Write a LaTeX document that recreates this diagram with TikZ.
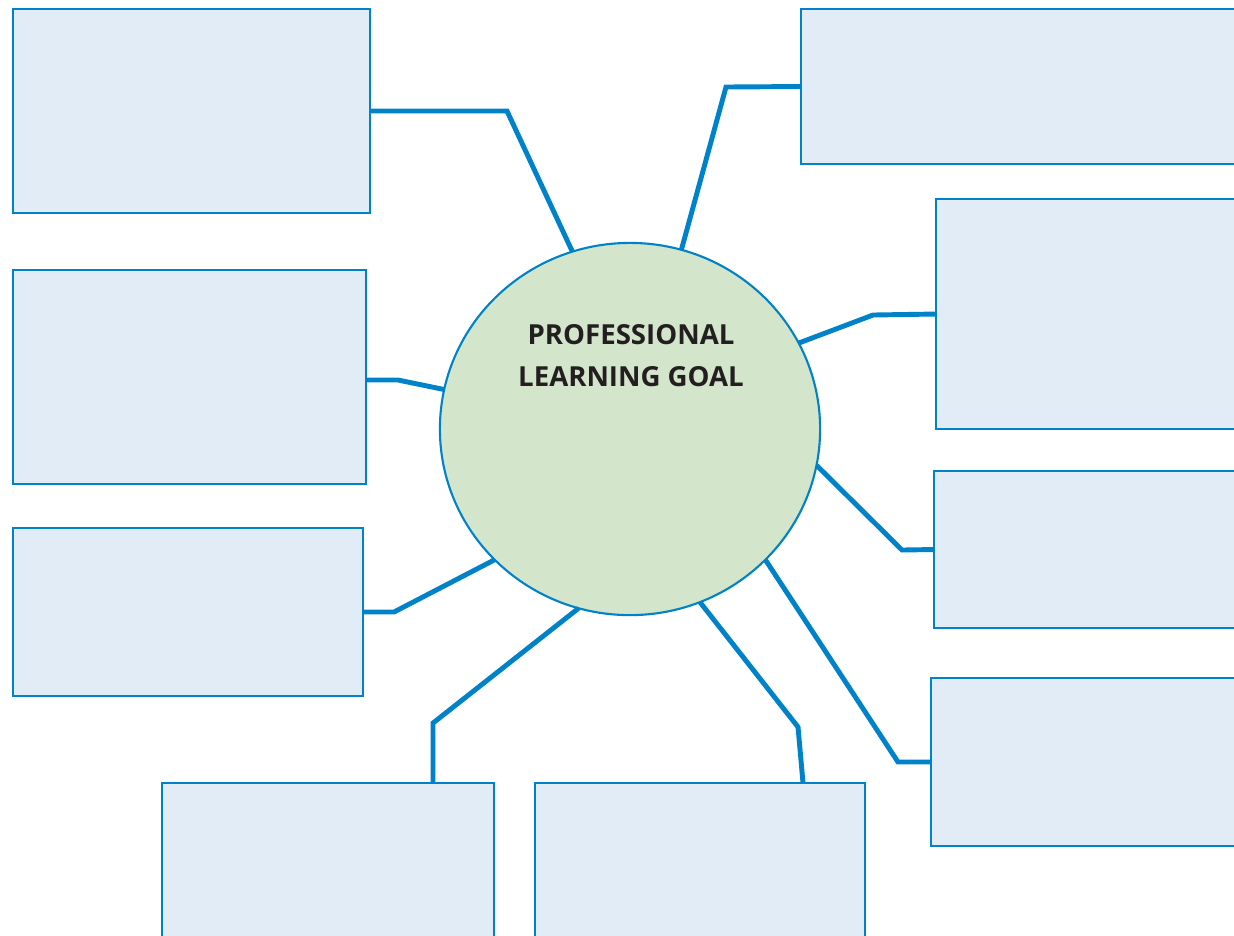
\documentclass[tikz,border=0pt]{standalone}
\usepackage{fontspec}
\setsansfont{Open Sans}
\usepackage{tikz}
\usetikzlibrary{fit,shapes.geometric}
\definecolor{linkblue}{RGB}{0,130,200}
\definecolor{boxfill}{RGB}{225,236,246}
\definecolor{goalfill}{RGB}{211,230,203}
\definecolor{goaltext}{RGB}{35,31,32}

\begin{document}
\begin{tikzpicture}[x=0.01cm, y=-0.01cm,
    box/.style={draw=linkblue, fill=boxfill, line width=0.7pt, inner sep=0pt, outer sep=0pt},
    link/.style={draw=linkblue, line width=1.4pt},
    goal/.style={ellipse, draw=linkblue, fill=goalfill, line width=0.6pt, inner sep=0pt,
        outer sep=0pt, minimum width=3.8cm, minimum height=3.72cm}]
    \clip (0,0) rectangle (1234,935);

    % Kaesten links.
    \node[box, fit={(13,9) (370,213)}] (tl) {};
    \node[box, fit={(13,270) (366,484)}] (ml) {};
    \node[box, fit={(13,528) (363,696)}] (ll) {};
    % Kaesten unten.
    \node[box, fit={(162,783) (494,960)}] (bl) {};
    \node[box, fit={(535,783) (865,960)}] (bc) {};
    % Kaesten rechts.
    \node[box, fit={(801,9) (1260,164)}] (tr) {};
    \node[box, fit={(936,199) (1260,429)}] (rb) {};
    \node[box, fit={(934,471) (1260,628)}] (rc) {};
    \node[box, fit={(931,678) (1260,846)}] (rd) {};

    % Kreis.
    \node[goal] (goal) at (630,429) {};
    \node[font=\sffamily\bfseries\fontsize{7.85}{12}\selectfont, text=goaltext, align=center]
        (title) at (631,356) {PROFESSIONAL\\LEARNING GOAL};

    % Verbindungen.
    \draw[link] (tl.east) -- (507,111) -- (goal.108);
    \draw[link] ([yshift=-0.03cm]ml.east) -- (398,380) -- (goal.168);
    \draw[link] (ll.east) -- (394,612) -- (goal.224.6);
    \draw[link] (bl.north east) ++(-61,0) -- (433,723) -- (goal.254.4);
    \draw[link] (bc.north east) ++(-62,0) -- (798,727) -- (goal.292.3);
    \draw[link] (tr.west) -- (726,87) -- (goal.74.2);
    \draw[link] (rb.west) -- (873,315) -- (goal.27.8);
    \draw[link] (rc.west) -- (902,550) -- (goal.-11.5);
    \draw[link] (rd.west) -- (898,762) -- (goal.316.7);
\end{tikzpicture}
\end{document}
